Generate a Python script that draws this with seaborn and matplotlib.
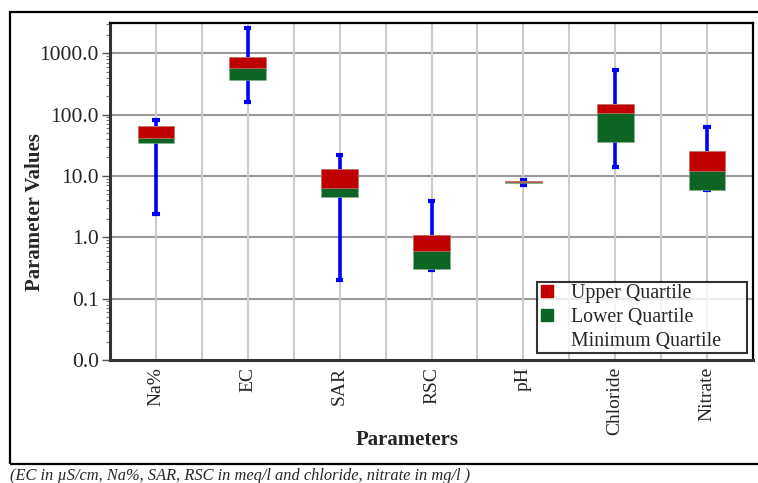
import numpy as np
import pandas as pd
import matplotlib
matplotlib.use("Agg")
import matplotlib.pyplot as plt
import seaborn as sns
from matplotlib.lines import Line2D
from matplotlib.patches import Rectangle
from matplotlib.ticker import FixedLocator, FixedFormatter, NullFormatter

categories = ["Na%", "EC", "SAR", "RSC", "pH", "Chloride", "Nitrate"]
minimum = [2.4, 159, 0.2, 0.29, 7.1, 14.2, 5.9]
lower_q = [34.6, 359, 4.6, 0.30, 7.8, 35.9, 6.0]
median = [42, 570, 6.4, 0.59, 8.0, 105, 11.9]
upper_q = [64.5, 850, 12.8, 1.08, 8.3, 148, 25.6]
maximum = [82, 2600, 22.3, 3.9, 8.7, 522, 62]
ytick_values = [0.01, 0.1, 1, 10, 100, 1000]
ytick_labels = ["0.0", "0.1", "1.0", "10.0", "100.0", "1000.0"]

RED = "#C00000"
GREEN = "#0E6424"
BLUE = "#0000FF"

sns.set_style("white")
plt.rcParams["font.family"] = ["Liberation Serif", "DejaVu Serif"]

# long-form data: five summary points per category -> exact quartiles
rows = []
for c, a, b, m, d, e in zip(categories, minimum, lower_q, median, upper_q, maximum):
    for v in (a, b, m, d, e):
        rows.append({"Parameter": c, "Value": v})
df = pd.DataFrame(rows)
red_df = pd.DataFrame({"Parameter": categories,
                       "Height": np.array(upper_q) - np.array(median)})

fig = plt.figure(figsize=(7.58, 4.83), dpi=100)
W, H = 758, 483
ax = fig.add_axes([110 / W, 1 - 360 / H, (753 - 110) / W, (360 - 23) / H])
ax.set_yscale("log")

sns.boxplot(data=df, x="Parameter", y="Value", order=categories, ax=ax,
            whis=(0, 100), width=0.4, fill=True, color=GREEN, saturation=1,
            boxprops=dict(facecolor=GREEN, edgecolor="#7fb58c", linewidth=0.4, zorder=3),
            medianprops=dict(linewidth=0),
            whiskerprops=dict(color=BLUE, linewidth=2.6, zorder=2,
                              solid_capstyle="butt"),
            capprops=dict(color=BLUE, linewidth=3, zorder=2,
                          solid_capstyle="butt"),
            capwidths=0.08, showfliers=False)

sns.barplot(data=red_df, x="Parameter", y="Height", order=categories, ax=ax,
            bottom=median, width=0.4, color=RED, saturation=1, errorbar=None,
            edgecolor="#e08a8a", linewidth=0.4, zorder=4)

ax.set_ylim(0.01, 3100)
ax.set_xlim(-0.5, 6.5)

ax.yaxis.set_major_locator(FixedLocator(ytick_values))
ax.yaxis.set_major_formatter(FixedFormatter(ytick_labels))
ax.yaxis.set_minor_formatter(NullFormatter())
ax.tick_params(axis="y", which="major", length=6, width=1, color="#555555",
               labelsize=15.5, pad=2, left=True)
ax.tick_params(axis="y", which="minor", length=3, width=0.8, color="#777777", left=True)
ax.set_xticks(range(len(categories)))
ax.set_xticklabels(categories, rotation=90)
ax.tick_params(axis="x", which="major", length=0, labelsize=14, pad=5)

ax.set_xlabel("")
ax.set_ylabel("")

# grid
for v in ytick_values[1:]:
    ax.axhline(v, color="#9a9a9a", lw=1.5, zorder=0)
for xv in np.arange(-0.5, 6.6, 0.5)[1:-1]:
    ax.axvline(xv, color="#cccccc", lw=1.5, zorder=0)

for s in ["left", "bottom"]:
    ax.spines[s].set_color("#333333")
    ax.spines[s].set_linewidth(2.2)
for s in ["top", "right"]:
    ax.spines[s].set_color("black")
    ax.spines[s].set_linewidth(1.6)

handles = [
    Line2D([], [], marker="s", linestyle="none", markersize=9,
           markerfacecolor=RED, markeredgecolor=RED),
    Line2D([], [], marker="s", linestyle="none", markersize=9,
           markerfacecolor=GREEN, markeredgecolor=GREEN),
    Line2D([], [], marker="s", linestyle="none", markersize=9,
           markerfacecolor="none", markeredgecolor="none"),
]
x0 = (537 - 110) / 643
y0 = (360 - 353) / 337
leg = ax.legend(handles, ["Upper Quartile", "Lower Quartile", "Minimum Quartile"],
                loc="lower left", bbox_to_anchor=(x0, y0, (747 - 537) / 643, 0.2),
                mode="expand", borderaxespad=0, fontsize=14.3, frameon=True,
                fancybox=False, handlelength=0.8, handletextpad=0.8,
                labelspacing=0.25, borderpad=0.1)
leg.get_frame().set_edgecolor("black")
leg.get_frame().set_linewidth(1.5)
leg.set_zorder(10)

fig.text(35 / W, 1 - 212 / H, "Parameter Values", rotation=90, ha="center",
         va="center", fontsize=15, fontweight="bold")
fig.text(407 / W, 1 - 440 / H, "Parameters", ha="center", va="center",
         fontsize=15, fontweight="bold")
fig.text(10 / W, 1 - 476 / H,
         "(EC in µS/cm, Na%, SAR, RSC in meq/l and chloride, nitrate in mg/l )",
         ha="left", va="center", fontsize=11.8, style="italic")

fig.patches.append(Rectangle((10 / W, 1 - 464 / H), 1.0, (464 - 12) / H,
                             transform=fig.transFigure, fill=False,
                             edgecolor="black", linewidth=1.6))

fig.savefig("out.png", dpi=100)
